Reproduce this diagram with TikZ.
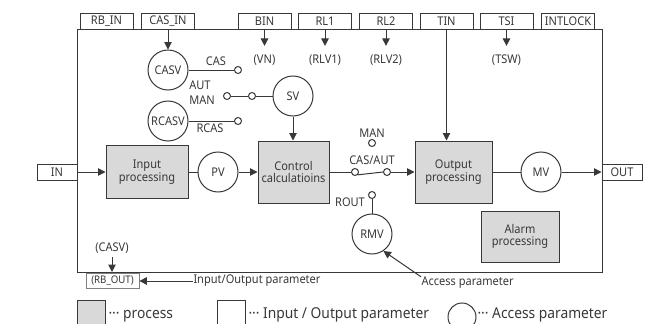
\documentclass[tikz,border=0pt]{standalone}
\usepackage{fontspec}
\setmainfont{Noto Sans}[FakeStretch=0.92]
\usetikzlibrary{arrows.meta}
\definecolor{ln}{HTML}{383838}
\definecolor{pfill}{HTML}{D9D9D9}
\begin{document}
\begin{tikzpicture}[x=1pt,y=-1pt,line width=1pt,color=ln,font=\fontsize{12}{12.5}\selectfont,
  arr/.style={-{Triangle[length=7.5pt,width=7.5pt]}},
  proc/.style={draw,fill=pfill,align=center,inner sep=0pt},
  iobox/.style={draw,fill=white,minimum width=53pt,minimum height=16pt,inner sep=0pt},
  acc/.style={draw,circle,fill=white,minimum size=40pt,inner sep=0pt},
  term/.style={draw,circle,fill=white,minimum size=7pt,inner sep=0pt},
  key/.style={anchor=base west,inner sep=0pt,font=\fontsize{15}{16}\selectfont}]
\useasboundingbox (0,0) rectangle (649,324);
\clip (0,0) rectangle (649,324);
\draw (77,29) rectangle (602,272);
%parameters on the frame
\foreach \n/\t/\x in {rbin/RB\_IN/106.5,casin/CAS\_IN/168,bin/BIN/264.5,rla/RL1/325,rlb/RL2/386,tin/TIN/446.5,tsi/TSI/506.5,intlock/INTLOCK/568}
  \node[iobox] (\n) at (\x,21) {\t};
\node[iobox,minimum width=40pt] (in) at (57,172) {IN};
\node[iobox,minimum width=40pt] (out) at (622,172) {OUT};
%processes
\node[proc,minimum width=82pt,minimum height=53pt] (inp) at (147,172) {Input\\processing};
\node[proc,minimum width=71pt,minimum height=62pt] (ctrl) at (293.5,172) {Control\\calculatioins};
\node[proc,minimum width=77pt,minimum height=62pt] (outp) at (453.5,172) {Output\\processing};
\node[proc,minimum width=78pt,minimum height=51pt] (alarm) at (520,236.5) {Alarm\\processing};
%access parameters
\node[acc] (casv) at (168,70) {CASV};
\node[acc] (rcasv) at (168,121) {RCASV};
\node[acc] (sv) at (293,96) {SV};
\node[acc] (pv) at (218,172) {PV};
\node[acc] (mv) at (541,172) {MV};
\node[acc] (rmv) at (372,234) {RMV};
%switch terminals
\node[term] (tcas) at (238,70) {};
\node[term] (taut) at (227,96) {};
\node[term] (tsv) at (252,96) {};
\node[term] (trcas) at (238,121) {};
\node[term] (tman) at (372,143) {};
\node[term] (tcaut) at (355,172) {};
\node[term] (tsw) at (387,172) {};
\node[term] (trout) at (372,195) {};
\node (lcas) at (216,61) {CAS};
\node (laut) at (200,85) {AUT};
\node (lman) at (202,100) {MAN};
\node (lrcas) at (210,128) {RCAS};
\node (lmanb) at (372,133) {MAN};
\node (lcasaut) at (372,160) {CAS/AUT};
\node (lrout) at (350,202) {ROUT};
\node (vn) at (264.5,60) {(VN)};
\node (rlva) at (325,60) {(RLV1)};
\node (rlvb) at (386,60) {(RLV2)};
\node (tsw2) at (506.5,60) {(TSW)};
\draw[arr] (casin)--(casv);
\foreach \a/\b in {bin/vn,rla/rlva,rlb/rlvb,tsi/tsw2} \draw[arr,shorten >=5pt] (\a)--(\b);
\draw (casv)--(tcas);
\draw (taut)--(tsv)--(sv);
\draw (rcasv)--(trcas);
\draw[arr] (sv)--(sv|-ctrl.north);
\draw[arr] (tin)--(tin|-outp.north);
%main flow
\draw[arr] (in)--(inp);
\draw (inp)--(pv);
\draw[arr] (pv)--(ctrl);
\draw (ctrl)--(tcaut);
\draw (tcaut.south east)--(tsw.west);
\draw[arr] (tsw)--(outp);
\draw (outp)--(mv);
\draw[arr] (mv)--(out);
\draw (trout)--(rmv);
%notes below
\node (lcasv) at (112,248) {(CASV)};
\coordinate (rbtop) at (112,272);
\draw[arr] (lcasv)--(rbtop);
\node[iobox,draw=gray,line width=0.8pt,minimum height=15pt,font=\fontsize{10.5}{11}\selectfont] (rbout) at (112.5,281) {(RB\_OUT)};
\node[anchor=west,inner sep=0pt] (lio) at (193,281) {Input/Output parameter};
\draw[arr] (lio)--(rbout);
\node[anchor=west,inner sep=0pt] (lacc) at (421,283) {Access parameter};
\draw[arr] (lacc.north west)--(rmv.-56);
%legend
\node[proc,minimum width=28pt,minimum height=30pt,anchor=north west] (kproc) at (77,300) {};
\node[draw,fill=white,minimum width=28pt,minimum height=30pt,anchor=north west] (kio) at (217,300) {};
\node[draw,circle,minimum size=28pt] (kacc) at (462,317) {};
\node[key] (tproc) at (108,318) {··· process};
\node[key] (tio) at (248,318) {··· Input / Output parameter};
\node[key] (tacc) at (477,318) {··· Access parameter};
\end{tikzpicture}
\end{document}
